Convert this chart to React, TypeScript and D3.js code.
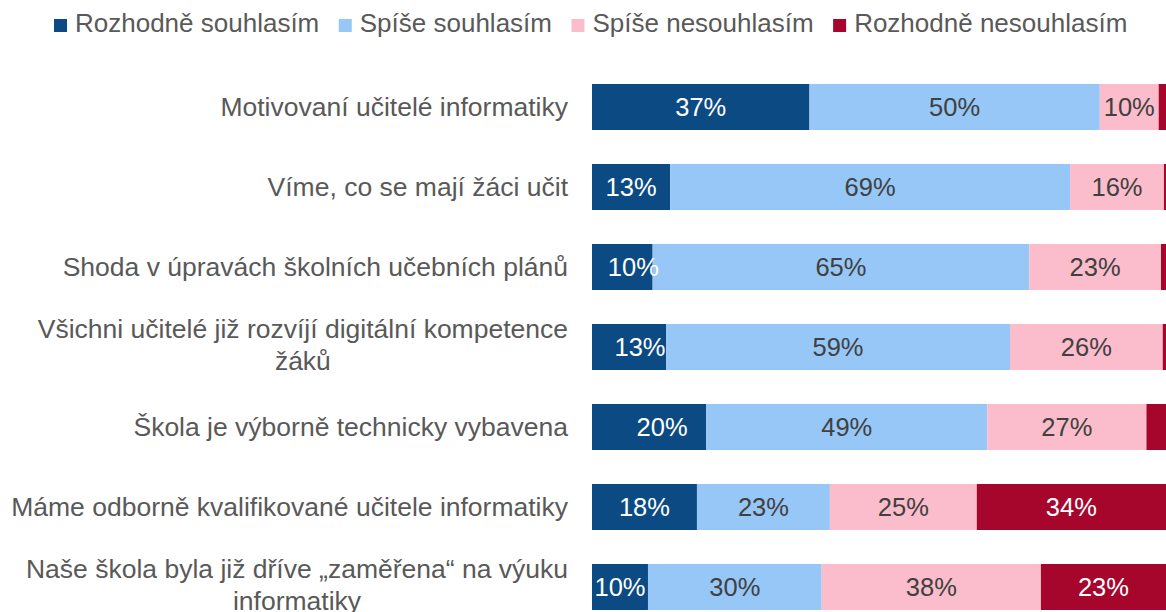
import React, { useEffect, useRef } from 'react';
import * as d3 from 'd3';

// ---- data ----
const categories: string[][] = [
  ['Motivovaní učitelé informatiky'],
  ['Víme, co se mají žáci učit'],
  ['Shoda v úpravách školních učebních plánů'],
  ['Všichni učitelé již rozvíjí digitální kompetence', 'žáků'],
  ['Škola je výborně technicky vybavena'],
  ['Máme odborně kvalifikované učitele informatiky'],
  ['Naše škola byla již dříve „zaměřena“ na výuku', 'informatiky'],
];
const seriesNames = ['Rozhodně souhlasím', 'Spíše souhlasím', 'Spíše nesouhlasím', 'Rozhodně nesouhlasím'];
const strongAgree = [37.3, 13.4, 10.4, 12.7, 19.6, 18.0, 9.6];
const agree = [49.8, 68.6, 64.6, 59.0, 48.2, 22.8, 29.8];
const disagree = [10.1, 16.1, 22.6, 26.2, 27.3, 25.2, 37.6];
const strongDisagree = [2.8, 1.9, 2.4, 2.1, 4.9, 34.0, 23.0];
const labelStrongAgree = ['37%', '13%', '10%', '13%', '20%', '18%', '10%'];
const labelAgree = ['50%', '69%', '65%', '59%', '49%', '23%', '30%'];
const labelDisagree = ['10%', '16%', '23%', '26%', '27%', '25%', '38%'];
const labelStrongDisagree = ['', '', '', '', '', '34%', '23%'];

// ---- style / layout ----
const colors = ['#0B4A82', '#97C7F7', '#FBBDCB', '#A6062B'];
const labelColors = ['#FFFFFF', '#404040', '#404040', '#FFFFFF'];
const darkLabelNudge = [0, 0, 11, 11, 13, 0, 0];
const FONT = '"Liberation Sans", Arial, Helvetica, sans-serif';
const W = 1166;
const H = 612;

export default function App() {
  const ref = useRef<SVGSVGElement | null>(null);

  useEffect(() => {
    const svg = d3.select(ref.current);
    svg.selectAll('*').remove();

    const series = [strongAgree, agree, disagree, strongDisagree];
    const labels = [labelStrongAgree, labelAgree, labelDisagree, labelStrongDisagree];

    const x = d3.scaleLinear().domain([0, 100]).range([592, 1175]);
    const y = d3
      .scaleBand<number>()
      .domain(d3.range(categories.length))
      .range([67, 627])
      .paddingInner(0.425)
      .paddingOuter(0.2125);

    const rows = categories.map((_, i) => {
      let acc = 0;
      return series.map((s, k) => {
        const x0 = acc;
        acc += s[i];
        return { i, k, x0, x1: acc, label: labels[k][i] };
      });
    });

    const g = svg.append('g');
    rows.forEach((segs) => {
      segs.forEach((d) => {
        g.append('rect')
          .attr('x', x(d.x0))
          .attr('y', y(d.i)!)
          .attr('width', Math.max(0, x(d.x1) - x(d.x0)))
          .attr('height', y.bandwidth())
          .attr('fill', colors[d.k]);
      });
    });
    rows.forEach((segs) => {
      segs.forEach((d) => {
        if (!d.label) return;
        const cx = (x(d.x0) + Math.min(x(d.x1), W)) / 2 + (d.k === 0 ? darkLabelNudge[d.i] : 0);
        g.append('text')
          .attr('x', cx)
          .attr('y', y(d.i)! + y.bandwidth() / 2)
          .attr('dy', '0.36em')
          .attr('text-anchor', 'middle')
          .attr('font-family', FONT)
          .attr('font-size', 25.5)
          .attr('fill', labelColors[d.k])
          .text(d.label);
      });
    });

    // category labels
    const labelRight = 568;
    const lineGap = 32;
    categories.forEach((lines, i) => {
      const cy = y(i)! + y.bandwidth() / 2;
      const texts = lines.map((line, j) =>
        svg
          .append('text')
          .attr('font-family', FONT)
          .attr('font-size', 26.5)
          .attr('fill', '#595959')
          .attr('text-anchor', 'middle')
          .attr('y', cy + (j - (lines.length - 1) / 2) * lineGap)
          .attr('dy', lines.length > 1 ? '0.26em' : '0.34em')
          .text(line)
      );
      const maxW = d3.max(texts, (t) => (t.node() as SVGTextElement).getComputedTextLength()) || 0;
      texts.forEach((t) => t.attr('x', labelRight - maxW / 2));
    });

    // legend
    let lx = 54;
    seriesNames.forEach((name, k) => {
      svg
        .append('rect')
        .attr('x', lx)
        .attr('y', 19)
        .attr('width', 13)
        .attr('height', 13)
        .attr('fill', colors[k]);
      const t = svg
        .append('text')
        .attr('x', lx + 21)
        .attr('y', 32)
        .attr('font-family', FONT)
        .attr('font-size', 26)
        .attr('fill', '#595959')
        .text(name);
      const tw = (t.node() as SVGTextElement).getComputedTextLength();
      lx += 21 + tw + 19.5;
    });
  }, []);

  return (
    <svg
      ref={ref}
      width={W}
      height={H}
      viewBox={`0 0 ${W} ${H}`}
      style={{ position: 'absolute', left: 0, top: 0, background: '#FFFFFF', display: 'block' }}
    />
  );
}
